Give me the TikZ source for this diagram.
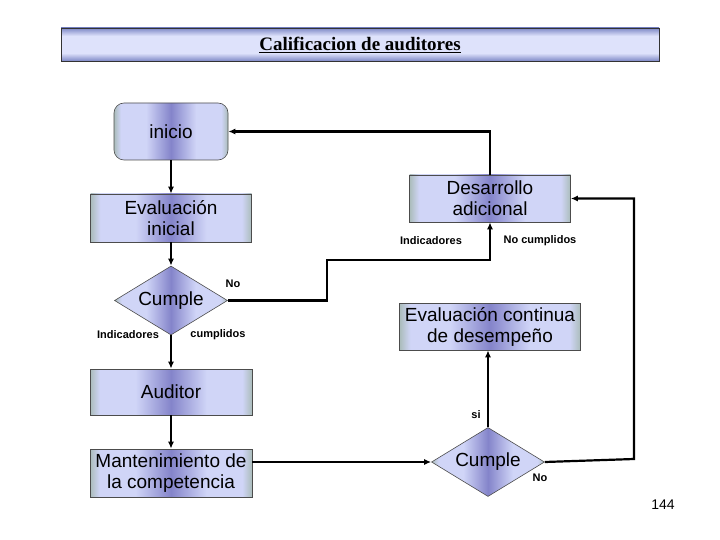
\documentclass[tikz,border=0pt]{standalone}
\usepackage{fontspec}
\setmainfont{Liberation Sans}
\newfontfamily\titulo{Liberation Serif}
\usetikzlibrary{shapes.geometric,arrows.meta}
\definecolor{gris}{RGB}{170,188,186}
\definecolor{lila}{RGB}{208,213,247}
\definecolor{lilaosc}{RGB}{132,132,202}
\definecolor{barraosc}{RGB}{126,136,198}
\definecolor{barraclara}{RGB}{222,226,251}
\pgfdeclarehorizontalshading{boton}{100bp}{color(0bp)=(gris); color(25bp)=(gris);
  color(28bp)=(lila); color(39bp)=(lila); color(50bp)=(lilaosc); color(61bp)=(lila);
  color(72bp)=(lila); color(75bp)=(gris); color(100bp)=(gris)}
\pgfdeclareverticalshading{barra}{100bp}{color(0bp)=(barraosc); color(25bp)=(barraosc);
  color(37bp)=(barraclara); color(63bp)=(barraclara); color(75bp)=(barraosc); color(100bp)=(barraosc)}
\tikzset{
  caja/.style={draw=black!70, line width=0.6pt, shade, shading=boton, align=center,
    inner sep=2pt, font=\fontsize{19}{21}\selectfont},
  rombo/.style={caja, diamond, shape aspect=1.64, inner sep=0pt,
    minimum width=113pt, minimum height=69pt},
  etiqueta/.style={font=\bfseries\fontsize{11}{13}\selectfont, inner sep=1pt},
  flecha/.style={line width=2.2pt, -{Latex[length=7pt,width=6pt]}}
}
\begin{document}
\begin{tikzpicture}[x=1pt,y=-1pt]
    \useasboundingbox (0,0) rectangle (720,540);
    \node[draw=black!80, line width=0.8pt, shade, shading=barra,
        minimum width=598pt, minimum height=33pt,
        font=\titulo\bfseries\fontsize{19}{21}\selectfont] (titulo) at (360,44.5)
        {\underline{Calificacion de auditores}};
    % columna izquierda
    \node[caja, rounded corners=10pt, minimum width=114pt, minimum height=57pt] (inicio) at (171,131.5) {inicio};
    \node[caja, minimum width=161pt, minimum height=48pt] (evalini) at (171,218) {Evaluación\\inicial};
    \node[rombo] (cumple1) at (171,300.5) {Cumple};
    \node[caja, minimum width=162pt, minimum height=46pt] (auditor) at (171,392) {Auditor};
    \node[caja, minimum width=162pt, minimum height=48pt] (mant) at (171,473) {Mantenimiento de\\la competencia};
    % columna derecha
    \node[caja, minimum width=161pt, minimum height=47pt] (desarrollo) at (490,198.5) {Desarrollo\\adicional};
    \node[caja, minimum width=181pt, minimum height=47pt] (evalcont) at (490,326.5) {Evaluación continua\\de desempeño};
    \node[rombo] (cumple2) at (488,462) {Cumple};
    % etiquetas
    \node[etiqueta] (no1) at (233,284) {No};
    \node[etiqueta] (ind1) at (128,335) {Indicadores};
    \node[etiqueta] (cump1) at (218,335) {cumplidos};
    \node[etiqueta] (ind2) at (431,241) {Indicadores};
    \node[etiqueta] (nocump2) at (540,241) {No cumplidos};
    \node[etiqueta] (si2) at (476,415) {si};
    \node[etiqueta] (no2) at (540,478) {No};
    \node[font=\fontsize{14}{16}\selectfont] (pagina) at (663,505) {144};
    \coordinate (codo1) at (327,260);
    \coordinate (codo2) at (634,459);
    \draw[flecha] (inicio) -- (evalini);
    \draw[flecha] (evalini) -- (cumple1);
    \draw[flecha] (cumple1) -- (auditor);
    \draw[flecha] (auditor) -- (mant);
    \draw[flecha] (mant.east |- cumple2.west) -- (cumple2.west);
    \draw[flecha] (cumple1.east) -| (codo1) -| (desarrollo.south);
    \draw[flecha] (desarrollo.north) |- (inicio.east);
    \draw[flecha] (cumple2.north) -- (cumple2.north |- evalcont.south);
    \draw[flecha] (cumple2.east) -- (codo2) |- (desarrollo.east);
\end{tikzpicture}
\end{document}
